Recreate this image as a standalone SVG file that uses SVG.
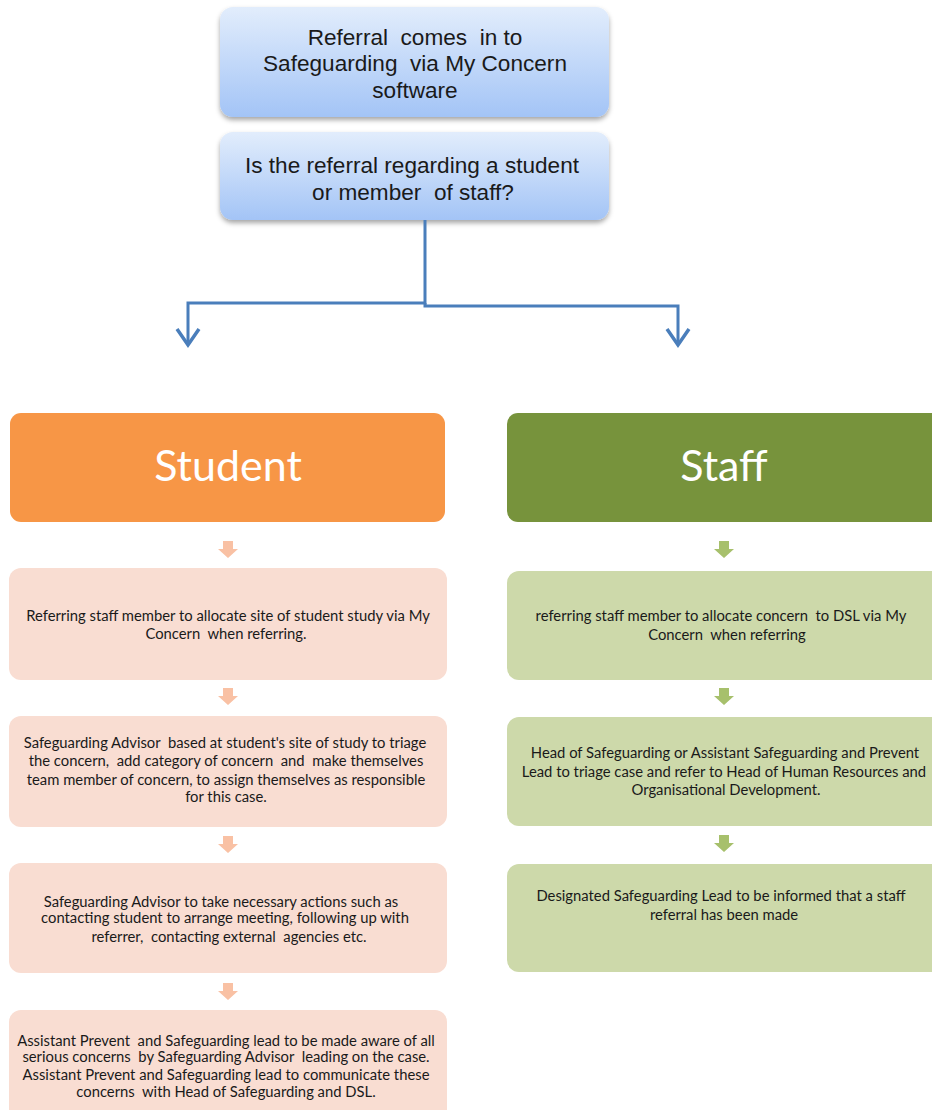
<svg xmlns="http://www.w3.org/2000/svg" width="932" height="1110" viewBox="0 0 932 1110">
<defs>
<linearGradient id="blueG" x1="0" y1="0" x2="0" y2="1">
<stop offset="0" stop-color="#e2edfc"/>
<stop offset="1" stop-color="#a3c4f6"/>
</linearGradient>
<filter id="sh" x="-10%" y="-10%" width="120%" height="140%">
<feDropShadow dx="0" dy="3" stdDeviation="2.5" flood-color="#000" flood-opacity="0.35"/>
</filter>
</defs>
<style>
text{white-space:pre}
.top{fill:url(#blueG);filter:url(#sh)}
.tt{font-family:"Liberation Sans",Arial,sans-serif;font-size:22.6px;fill:#1a1a1a;text-anchor:middle}
.hdr{font-family:Lato,"Open Sans",sans-serif;font-size:43px;fill:#fff;text-anchor:middle}
.st{fill:#f9ddd2}
.sf{fill:#cdd9aa}
.sa{fill:#f9c1a4}
.fa{fill:#a7c06c}
.bt{font-family:Lato,"Liberation Sans",sans-serif;font-size:14.8px;fill:#1a1a1a;text-anchor:middle}
.conn{fill:none;stroke:#4a7ebb;stroke-width:3}
.head{fill:none;stroke:#4a7ebb;stroke-width:3.5}
</style>

<g id="n-referral">
<rect class="top" x="220" y="7" width="389" height="110" rx="13"/>
<text class="tt" x="415" y="45">Referral  comes  in to</text>
<text class="tt" x="415" y="71">Safeguarding  via My Concern</text>
<text class="tt" x="415" y="98">software</text>
</g>
<g id="n-question">
<rect class="top" x="220" y="132" width="389" height="88" rx="13"/>
<text class="tt" x="412" y="173">Is the referral regarding a student</text>
<text class="tt" x="413" y="200">or member  of staff?</text>
</g>

<g id="connectors">
<path class="conn" d="M425,220 V303 H188 V343"/>
<path class="conn" d="M425,303 V306 H678 V343"/>
<path class="head" d="M177,329 L188,345 L199,329"/>
<path class="head" d="M667,329 L678,345 L689,329"/>
<path class="sa" d="M223,541 h10 v8 h5 l-10,9 l-10,-9 h5 z"/>
<path class="sa" d="M223,688 h10 v8 h5 l-10,9 l-10,-9 h5 z"/>
<path class="sa" d="M223,836 h10 v8 h5 l-10,9 l-10,-9 h5 z"/>
<path class="sa" d="M223,983 h10 v8 h5 l-10,9 l-10,-9 h5 z"/>
<path class="fa" d="M719,541 h10 v8 h5 l-10,9 l-10,-9 h5 z"/>
<path class="fa" d="M719,688 h10 v8 h5 l-10,9 l-10,-9 h5 z"/>
<path class="fa" d="M719,835 h10 v8 h5 l-10,9 l-10,-9 h5 z"/>
</g>

<g id="n-student">
<rect x="10" y="413" width="435" height="109" rx="11" fill="#f79646"/>
<text class="hdr" x="228" y="481">Student</text>
</g>
<g id="n-staff">
<rect x="507" y="413" width="440" height="109" rx="11" fill="#77933c"/>
<text class="hdr" x="724" y="481">Staff</text>
</g>

<g id="n-s1">
<rect class="st" x="9" y="568" width="438" height="112" rx="12"/>
<text class="bt" x="228" y="621">Referring staff member to allocate site of student study via My</text>
<text class="bt" x="226" y="639">Concern  when referring.</text>
</g>
<g id="n-s2">
<rect class="st" x="9" y="716" width="438" height="111" rx="12"/>
<text class="bt" x="225" y="748">Safeguarding Advisor  based at student's site of study to triage</text>
<text class="bt" x="226" y="766">the concern,  add category of concern  and  make themselves</text>
<text class="bt" x="226" y="785">team member of concern, to assign themselves as responsible</text>
<text class="bt" x="226" y="802">for this case.</text>
</g>
<g id="n-s3">
<rect class="st" x="9" y="863" width="438" height="110" rx="12"/>
<text class="bt" x="221" y="907">Safeguarding Advisor to take necessary actions such as</text>
<text class="bt" x="225" y="923">contacting student to arrange meeting, following up with</text>
<text class="bt" x="229" y="942">referrer,  contacting external  agencies etc.</text>
</g>
<g id="n-s4">
<rect class="st" x="9" y="1010" width="438" height="115" rx="12"/>
<text class="bt" x="226" y="1046">Assistant Prevent  and Safeguarding lead to be made aware of all</text>
<text class="bt" x="226" y="1062">serious concerns  by Safeguarding Advisor  leading on the case.</text>
<text class="bt" x="226" y="1080">Assistant Prevent and Safeguarding lead to communicate these</text>
<text class="bt" x="226" y="1097">concerns  with Head of Safeguarding and DSL.</text>
</g>

<g id="n-f1">
<rect class="sf" x="507" y="571" width="440" height="109" rx="12"/>
<text class="bt" x="721" y="621">referring staff member to allocate concern  to DSL via My</text>
<text class="bt" x="727" y="640">Concern  when referring</text>
</g>
<g id="n-f2">
<rect class="sf" x="507" y="717" width="440" height="109" rx="12"/>
<text class="bt" x="725" y="758">Head of Safeguarding or Assistant Safeguarding and Prevent</text>
<text class="bt" x="724" y="777">Lead to triage case and refer to Head of Human Resources and</text>
<text class="bt" x="726" y="795">Organisational Development.</text>
</g>
<g id="n-f3">
<rect class="sf" x="507" y="864" width="440" height="108" rx="12"/>
<text class="bt" x="721" y="901">Designated Safeguarding Lead to be informed that a staff</text>
<text class="bt" x="724" y="920">referral has been made</text>
</g>
</svg>
